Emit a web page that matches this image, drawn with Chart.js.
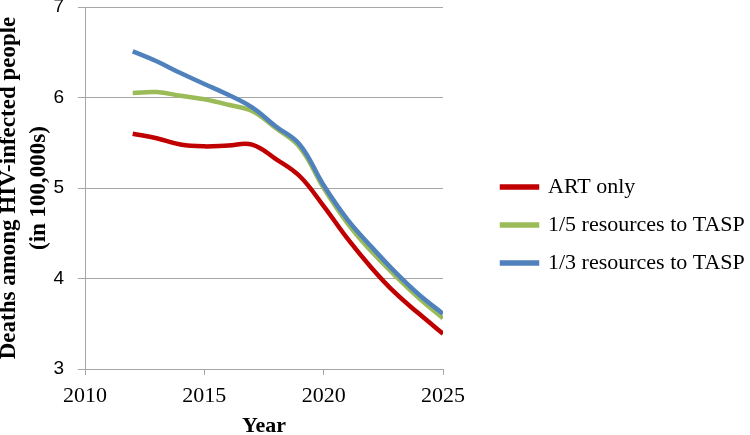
<!DOCTYPE html>
<html>
<head>
<meta charset="utf-8">
<script src="https://cdn.jsdelivr.net/npm/chart.js@4"></script>
<style>
  body { margin: 0; background: #fff; }
  canvas { display: block; }
</style>
</head>
<body>
<canvas id="myChart" width="750" height="435"></canvas>
<script>
// values (deaths, in 100,000s)
const years = [2012, 2013, 2014, 2015, 2016, 2017, 2018, 2019, 2020, 2021, 2022, 2023, 2024, 2025];
const artOnly = [5.60, 5.55, 5.48, 5.46, 5.47, 5.48, 5.32, 5.13, 4.80, 4.44, 4.12, 3.84, 3.61, 3.39];
const fifthTasp = [6.05, 6.06, 6.02, 5.98, 5.92, 5.85, 5.66, 5.45, 5.00, 4.61, 4.30, 4.03, 3.78, 3.56];
const thirdTasp = [6.51, 6.40, 6.27, 6.15, 6.03, 5.89, 5.68, 5.48, 5.03, 4.65, 4.35, 4.07, 3.82, 3.61];
const seriesNames = ['ART only', '1/5 resources to TASP', '1/3 resources to TASP'];
const xTicks = [2010, 2015, 2020, 2025];
const yTicks = [3, 4, 5, 6, 7];

const gridColor = '#a6a6a6';
const serif = "'Liberation Serif', 'Times New Roman', serif";

function pts(vals) {
  return vals.map((v, i) => ({ x: years[i], y: v }));
}

function line(label, vals, color, order) {
  return {
    label: label,
    data: pts(vals),
    borderColor: color,
    backgroundColor: color,
    borderWidth: 4.5,
    pointRadius: 0,
    tension: 0.4,
    fill: false,
    order: order   // blue drawn on top, like excel
  };
}

const ctx = document.getElementById('myChart').getContext('2d');

const myChart = new Chart(ctx, {
  type: 'line',
  data: {
    datasets: [
      line(seriesNames[0], artOnly, '#c00000', 3),
      line(seriesNames[1], fifthTasp, '#9bbb59', 2),
      line(seriesNames[2], thirdTasp, '#4f81bd', 1)
    ]
  },
  options: {
    responsive: false,
    animation: false,
    layout: { padding: { top: 7, left: 0, right: 0, bottom: 0 } },
    scales: {
      x: {
        type: 'linear',
        min: xTicks[0],
        max: xTicks[xTicks.length - 1],
        afterBuildTicks: s => { s.ticks = xTicks.map(v => ({ value: v })); },
        afterFit: s => { s.height = 66; },
        ticks: {
          color: '#000',
          padding: 8,
          font: { family: serif, size: 22 },
          callback: v => String(v)
        },
        grid: { drawOnChartArea: false, color: gridColor, tickLength: 6 },
        border: { color: gridColor },
        title: {
          display: true,
          text: 'Year',
          color: '#000',
          padding: 0,
          font: { family: serif, size: 22, weight: 'bold', lineHeight: 0.8 }
        }
      },
      y: {
        min: yTicks[0],
        max: yTicks[yTicks.length - 1],
        afterBuildTicks: s => { s.ticks = yTicks.map(v => ({ value: v })); },
        afterFit: s => {
          s.width = 85;
          s.paddingTop = 0;
          s.paddingBottom = 0;
        },
        ticks: {
          color: '#000',
          padding: 14,
          font: { family: "'Liberation Sans', Arial, sans-serif", size: 19 }
        },
        grid: { color: gridColor, tickLength: 7 },
        border: { color: gridColor },
        title: {
          display: true,
          text: ['Deaths among HIV-infected people', '(in 100,000s)'],
          color: '#000',
          padding: { top: -5.5, bottom: 0 },
          font: { family: serif, size: 23, weight: 'bold', lineHeight: 1.3 }
        }
      },
      // empty spacer between plot and legend
      gap: {
        type: 'linear',
        position: 'right',
        display: true,
        afterFit: s => { s.width = 43; },
        ticks: { display: false },
        grid: { display: false },
        border: { display: false }
      }
    },
    plugins: {
      legend: {
        position: 'right',
        align: 'center',
        maxWidth: 264,
        title: {
          display: true,
          text: '',
          padding: 0,
          font: { size: 8, lineHeight: 1 }
        },
        labels: {
          color: '#000',
          boxWidth: 35,
          boxHeight: 1,
          padding: 16,
          font: { family: serif, size: 22 },
          sort: (a, b) => a.datasetIndex - b.datasetIndex
        }
      },
      tooltip: { enabled: false }
    }
  }
});
</script>
</body>
</html>
